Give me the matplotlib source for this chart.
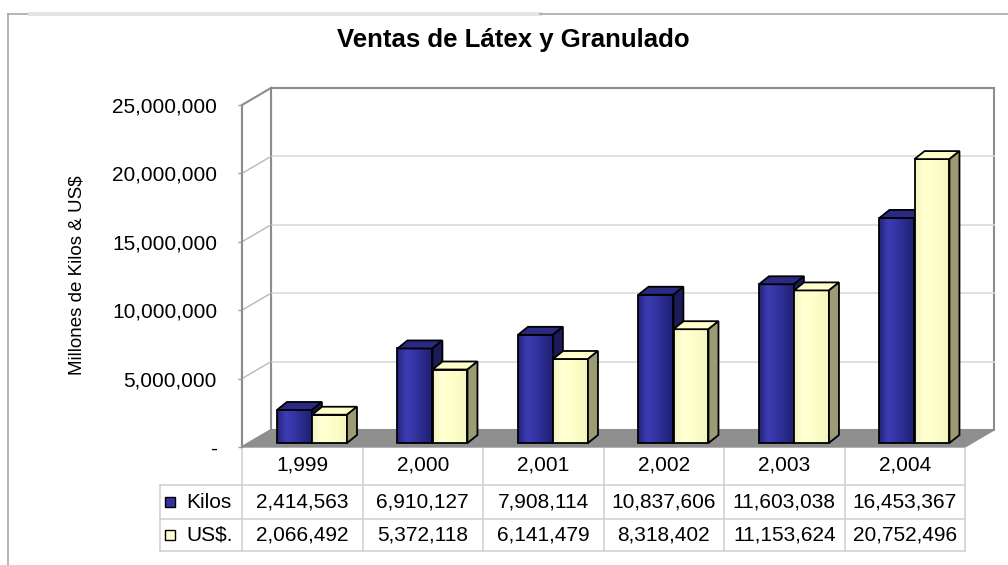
import matplotlib
matplotlib.use("Agg")
import matplotlib.pyplot as plt
import matplotlib.transforms as mtransforms
import numpy as np
from matplotlib.colors import LinearSegmentedColormap
from matplotlib.patches import Polygon
from matplotlib.ticker import FuncFormatter

plt.rcParams["font.family"] = ["Liberation Sans", "DejaVu Sans"]

# ---------------- data ----------------
YEARS = ["1,999", "2,000", "2,001", "2,002", "2,003", "2,004"]
KILOS = [2414563, 6910127, 7908114, 10837606, 11603038, 16453367]
USD = [2066492, 5372118, 6141479, 8318402, 11153624, 20752496]
SERIES = ["Kilos", "US$."]
YMAX = 25_000_000
YSTEP = 5_000_000

# face colours: front, top, side
COLORS = [("#32329f", "#2a2a84", "#1b1b5c"),
          ("#ffffcc", "#ffffcc", "#9c9c74")]
# horizontal shading of the front faces (cylinder-ish look, like Excel 3D)
SHADE = [["#23237a", "#3d3db4", "#3434a4", "#2a2a8c", "#202072"],
         ["#f6f6c2", "#ffffd2", "#ffffcc", "#fbfbc6", "#f4f4be"]]
GRID = "#dadada"
WALL_EDGE = "#8c8c8c"
TABLE_LINE = "#d2d2d2"
FS = 15

W, H = 1008, 565
n = len(YEARS)
fig = plt.figure(figsize=(W / 100, H / 100), dpi=100)
ax = fig.add_axes([242 / W, 1 - 447 / H, 723 / W, 342 / H])
for s in ax.spines.values():
    s.set_visible(False)
ax.set_xticks([])
ax.patch.set_alpha(0)

# pixel -> data unit helpers (figure is drawn at 100 dpi)
sx = 723 / n
sy = 342 / YMAX


def off(px, py):
    return px / sx, py / sy


fdx, fdy = off(29, 17)   # floor / wall depth
bdx, bdy = off(7, 4)     # bars sit a little behind the front edge
ddx, ddy = off(10, 8)    # bar depth


def poly(pts, fc, ec, z, lw=1.0):
    ax.add_patch(Polygon(pts, closed=True, facecolor=fc, edgecolor=ec,
                         linewidth=lw, zorder=z, clip_on=False))


# ---------------- walls, floor, grid ----------------
poly([(fdx, fdy), (n + fdx, fdy), (n + fdx, YMAX + fdy), (fdx, YMAX + fdy)],
     "white", WALL_EDGE, 0, lw=1.5)
poly([(0, 0), (0, YMAX), (fdx, YMAX + fdy), (fdx, fdy)], "white", WALL_EDGE, 0.5, lw=1.5)
ticks = list(range(0, YMAX + 1, YSTEP))
for v in ticks[1:-1]:
    ax.plot([fdx, n + fdx], [v + fdy] * 2, color=GRID, lw=1.2, zorder=0.2, clip_on=False)
    ax.plot([0, fdx], [v, v + fdy], color="#b8b8b8", lw=1.0, zorder=0.6, clip_on=False)
poly([(0, 0), (n, 0), (n + fdx, fdy), (fdx, fdy)], "#8f8f8f", "#8f8f8f", 1)
ax.plot([0, 0], [0, YMAX], color=WALL_EDGE, lw=1.5, zorder=1.2, clip_on=False)

# ---------------- 3D bars ----------------
BAR_W = 0.29
for j, vals in enumerate([KILOS, USD]):
    front, top, side = COLORS[j]
    cmap = LinearSegmentedColormap.from_list(f"shade{j}", SHADE[j])
    z = 3 + j
    xs = [i + 0.232 + j * 0.291 + bdx for i in range(n)]
    faces = ax.bar(xs, vals, width=BAR_W, bottom=bdy, align="edge", color=front,
                   linewidth=0, zorder=z, clip_on=False)
    for rect in faces:
        x0, y0 = rect.get_x(), rect.get_y()
        im = ax.imshow(np.linspace(0, 1, 64)[None, :], cmap=cmap, aspect="auto",
                       extent=[x0, x0 + rect.get_width(), y0, y0 + rect.get_height()],
                       zorder=z, interpolation="bilinear")
        im.set_clip_path(rect)
    ax.bar(xs, vals, width=BAR_W, bottom=bdy, align="edge", fill=False,
           edgecolor="black", linewidth=1.3, zorder=z, clip_on=False)
    for x0, v in zip(xs, vals):
        x1 = x0 + BAR_W
        y1 = v + bdy
        poly([(x0, y1), (x1, y1), (x1 + ddx, y1 + ddy), (x0 + ddx, y1 + ddy)],
             top, "black", z, lw=1.3)
        poly([(x1, bdy), (x1 + ddx, bdy + ddy), (x1 + ddx, y1 + ddy), (x1, y1)],
             side, "black", z, lw=1.3)

ax.set_xlim(0, n)
ax.set_ylim(0, YMAX)

# ---------------- y axis ----------------
ax.set_yticks(ticks)
ax.yaxis.set_major_formatter(FuncFormatter(lambda v, _: "-" if v == 0 else f"{int(v):,}"))
ax.tick_params(axis="y", length=3, width=1, color="#9a9a9a", labelsize=FS, pad=15)
fig.text(77 / W, 1 - 275 / H, "Millones de Kilos & US$", rotation=90,
         ha="center", va="center", fontsize=13.5)

# ---------------- data table ----------------
trans = mtransforms.blended_transform_factory(ax.transData, ax.transAxes)
LX = (160 - 242) / sx
ROW_Y = [-0.0526, -0.161, -0.257]
LINES_Y = [-0.111, -0.2105, -0.304]
for k in range(n + 1):
    ax.plot([k, k], [-0.006, LINES_Y[-1]], color=TABLE_LINE, lw=1.2,
            transform=trans, clip_on=False)
ax.plot([LX, LX], [LINES_Y[0], LINES_Y[-1]], color=TABLE_LINE, lw=1.2,
        transform=trans, clip_on=False)
for yl in LINES_Y:
    ax.plot([LX, n], [yl, yl], color=TABLE_LINE, lw=1.2, transform=trans, clip_on=False)

for i, yr in enumerate(YEARS):
    ax.text(i + 0.5, ROW_Y[0], yr, transform=trans, ha="center", va="center", fontsize=FS)
for j, vals in enumerate([KILOS, USD]):
    for i, v in enumerate(vals):
        ax.text(i + 0.5, ROW_Y[j + 1], f"{v:,}", transform=trans,
                ha="center", va="center", fontsize=FS)
    ax.plot([LX + 10 / sx], [ROW_Y[j + 1]], marker="s", markersize=7.5,
            markerfacecolor=COLORS[j][0], markeredgecolor="black", markeredgewidth=1,
            transform=trans, clip_on=False)
    ax.text(LX + 26 / sx, ROW_Y[j + 1], SERIES[j], transform=trans,
            ha="left", va="center", fontsize=FS)

# ---------------- title and frame ----------------
fig.text(513 / W, 1 - 40 / H, "Ventas de Látex y Granulado", ha="center", va="center",
         fontsize=18.5, fontweight="bold")
fig.add_artist(plt.Line2D([8 / W, 8 / W], [0, 1 - 14 / H], color="#a8a8a8", lw=1.2))
fig.add_artist(plt.Line2D([8 / W, 30 / W], [1 - 14 / H, 1 - 14 / H], color="#a8a8a8", lw=1.2))
fig.add_artist(plt.Line2D([30 / W, 540 / W], [1 - 14 / H, 1 - 14 / H], color="#e4e4e4", lw=3))
fig.add_artist(plt.Line2D([540 / W, 1], [1 - 14 / H, 1 - 14 / H], color="#a8a8a8", lw=1.2))

fig.savefig("out.png", dpi=100)
